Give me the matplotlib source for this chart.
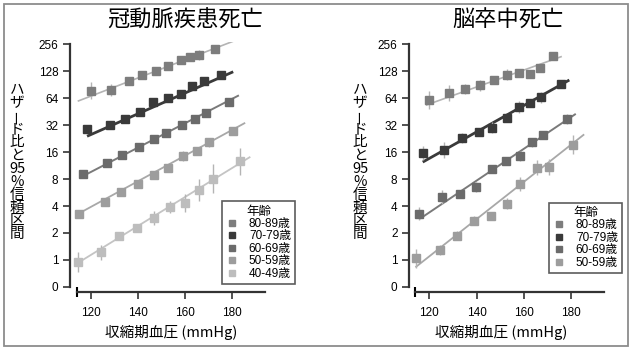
import numpy as np
import matplotlib
matplotlib.use('Agg')
import matplotlib.pyplot as plt
from matplotlib.patches import Rectangle

plt.rcParams['font.family'] = ['Liberation Sans', 'Noto Sans CJK JP']

ages = ['80-89歳', '70-79歳', '60-69歳', '50-59歳', '40-49歳']
mark_colors = ['#7d7d7d', '#3a3a3a', '#6b6b6b', '#9d9d9d', '#bdbdbd']
line_colors = ['#b4b4b4', '#3a3a3a', '#7a7a7a', '#a8a8a8', '#c4c4c4']
line_widths = [1.2, 2.0, 1.4, 1.3, 1.3]

y_ticks = [0.5, 1, 2, 4, 8, 16, 32, 64, 128, 256]
y_labels = ['0', '1', '2', '4', '8', '16', '32', '64', '128', '256']
x_ticks = [120, 140, 160, 180]

# 冠動脈疾患死亡 (5 age groups)
chd_x = [
    [119.9, 128.5, 136.2, 141.8, 147.5, 152.6, 158.4, 162.2, 165.8, 172.5],
    [118.2, 128.1, 134.2, 140.6, 146.3, 152.6, 158.3, 162.8, 168.1, 175.4],
    [116.7, 126.7, 133.3, 140.4, 146.7, 151.9, 158.5, 164.4, 169.0, 178.6],
    [114.9, 125.7, 132.8, 140.1, 146.7, 152.6, 159.0, 165.0, 170.3, 180.5],
    [114.2, 124.3, 131.7, 139.3, 146.8, 153.5, 160.1, 166.1, 171.8, 183.4],
]
chd_hr = [
    [78, 79, 100, 115, 128, 146, 170, 184, 193, 228],
    [29, 32.5, 37.8, 44.6, 57.7, 64, 72, 88, 99, 115],
    [9.1, 12.1, 15.0, 18.1, 22.3, 26.2, 32.4, 37.8, 43.7, 58.5],
    [3.24, 4.48, 5.77, 7.05, 8.9, 10.7, 14.5, 16.6, 20.5, 27.8],
    [0.94, 1.22, 1.85, 2.27, 2.93, 3.86, 4.29, 6.06, 8.1, 12.6],
]
# half width of the 95% CI, log2 units
chd_err = [
    [0.33, 0.22, 0.1, 0.1, 0.07, 0.07, 0.1, 0.15, 0.18, 0.08],
    [0.15, 0.1, 0.1, 0.07, 0.07, 0.07, 0.07, 0.1, 0.08, 0.07],
    [0.08, 0.07, 0.07, 0.07, 0.07, 0.07, 0.07, 0.08, 0.12, 0.1],
    [0.1, 0.08, 0.08, 0.08, 0.1, 0.12, 0.18, 0.15, 0.15, 0.15],
    [0.37, 0.28, 0.15, 0.15, 0.26, 0.22, 0.34, 0.4, 0.54, 0.5],
]
chd_fit_x = [[114.6, 180.3], [118.8, 179.9], [116.0, 182.5], [113.6, 185.2], [113.6, 187.4]]
chd_fit_y = [[59.7, 276], [24.4, 124.5], [8.5, 68.1], [3.18, 33.6], [0.90, 14.0]]

# 脳卒中死亡 (4 age groups)
stroke_x = [
    [120.0, 128.3, 135.1, 141.3, 147.4, 153.1, 158.0, 162.8, 166.9, 172.5],
    [117.5, 126.4, 134.0, 141.0, 146.6, 152.8, 158.1, 162.8, 167.4, 175.7],
    [115.6, 125.3, 133.0, 139.8, 146.6, 152.5, 158.3, 163.6, 168.3, 178.2],
    [114.4, 124.4, 131.8, 138.8, 146.2, 153.0, 158.6, 165.7, 170.9, 180.8],
]
stroke_hr = [
    [60.7, 72.6, 81, 89, 103, 117, 121, 120, 139, 191],
    [15.5, 16.9, 22.8, 26.7, 30.0, 38.6, 50.9, 56.1, 65.3, 92.4],
    [3.29, 5.1, 5.5, 6.5, 10.3, 12.7, 14.5, 20.5, 24.9, 37.5],
    [1.04, 1.30, 1.87, 2.75, 3.12, 4.26, 7.0, 10.7, 10.9, 19.4],
]
stroke_err = [
    [0.34, 0.3, 0.19, 0.19, 0.1, 0.2, 0.1, 0.1, 0.12, 0.1],
    [0.26, 0.28, 0.19, 0.1, 0.2, 0.1, 0.22, 0.12, 0.19, 0.15],
    [0.25, 0.26, 0.15, 0.19, 0.1, 0.12, 0.17, 0.15, 0.12, 0.17],
    [0.34, 0.19, 0.17, 0.17, 0.15, 0.2, 0.26, 0.28, 0.28, 0.34],
]
stroke_fit_x = [[118.8, 175.8], [117.7, 178.8], [116.4, 181.7], [114.4, 185.3]]
stroke_fit_y = [[53.8, 186], [12.6, 100.4], [2.93, 42.2], [0.84, 24.9]]

ylabel_chars = ['ハ', 'ザ', 'ー', 'ド', '比', 'と', '95', '%', '信', '頼', '区', '間']
W, H = 635, 353


def draw_panel(ax, xs, hrs, errs, fit_x, fit_y, title, title_x, xlabel_x, leg_corner):
    for i in range(len(xs)):
        x = np.array(xs[i])
        hr = np.array(hrs[i])
        e = np.array(errs[i])
        lo = hr / 2 ** e
        hi = hr * 2 ** e
        ax.plot(fit_x[i], fit_y[i], color=line_colors[i], lw=line_widths[i], zorder=1)
        ax.errorbar(x, hr, yerr=[hr - lo, hi - hr], fmt='none',
                    ecolor='#b4b4b4', elinewidth=1.0, zorder=2)
        ax.plot(x, hr, 's', ms=5.4, color=mark_colors[i], mec=mark_colors[i],
                label=ages[i], zorder=3)

    ax.set_yscale('log', base=2)
    ax.set_ylim(2 ** -1.19, 2 ** 8.1)
    ax.set_yticks(y_ticks)
    ax.set_yticklabels(y_labels)
    ax.minorticks_off()
    ax.set_xticks(x_ticks)
    ax.set_xticks([114], minor=True)
    ax.tick_params(axis='both', labelsize=8.5, width=1.2, length=5, color='#333333')
    ax.tick_params(axis='x', which='minor', length=7, width=1.5, direction='inout')
    ax.tick_params(axis='x', pad=6)

    for s in ['top', 'right']:
        ax.spines[s].set_visible(False)
    ax.spines['left'].set_bounds(0.5, 256)
    ax.spines['bottom'].set_bounds(114, 194)
    for s in ['left', 'bottom']:
        ax.spines[s].set_linewidth(1.6)
        ax.spines[s].set_color('#333333')

    leg = ax.legend(title='年齢', loc='lower right',
                    bbox_to_anchor=(leg_corner[0] / W, 1 - leg_corner[1] / H),
                    bbox_transform=fig.transFigure,
                    fontsize=8.5, title_fontsize=9, handlelength=0.9,
                    handletextpad=1.0, borderpad=0.35, labelspacing=0.04,
                    borderaxespad=0, fancybox=False, markerscale=0.75)
    leg.get_frame().set_edgecolor('#333333')
    leg.get_frame().set_linewidth(1.2)

    fig.text(title_x / W, 1 - 20 / H, title, fontsize=16, ha='center', va='center',
             family='Noto Sans CJK JP')
    fig.text(xlabel_x / W, 1 - 332 / H, '収縮期血圧 (mmHg)', fontsize=10.5,
             ha='center', va='center', family='Noto Sans CJK JP')


fig = plt.figure(figsize=(W / 100, H / 100), dpi=100)
ax1 = fig.add_axes([70 / W, 61 / H, 200 / W, 250.4 / H])
ax1.set_xlim(111, 196.1)
ax2 = fig.add_axes([409.3 / W, 61 / H, 200.6 / W, 250.4 / H])
ax2.set_xlim(111.5, 196.5)

draw_panel(ax1, chd_x, chd_hr, chd_err, chd_fit_x, chd_fit_y,
           '冠動脈疾患死亡', 185, 171, (295, 284))
draw_panel(ax2, stroke_x, stroke_hr, stroke_err, stroke_fit_x, stroke_fit_y,
           '脳卒中死亡', 508, 501, (622, 273))

# vertical y labels, one character per line
for cx in [17, 360]:
    for k, ch in enumerate(ylabel_chars):
        py = 90 + k * 13.1
        rot = 90 if ch == 'ー' else 0
        fig.text(cx / W, 1 - py / H, ch, fontsize=10.5, ha='center', va='center',
                 rotation=rot, family=['Noto Sans CJK JP', 'DejaVu Sans'])

fig.patches.append(Rectangle((4 / W, 7 / H), 624 / W, 342 / H,
                             transform=fig.transFigure, fill=False,
                             edgecolor='#8c8c8c', linewidth=1.3))

fig.savefig('out.png', dpi=100)
